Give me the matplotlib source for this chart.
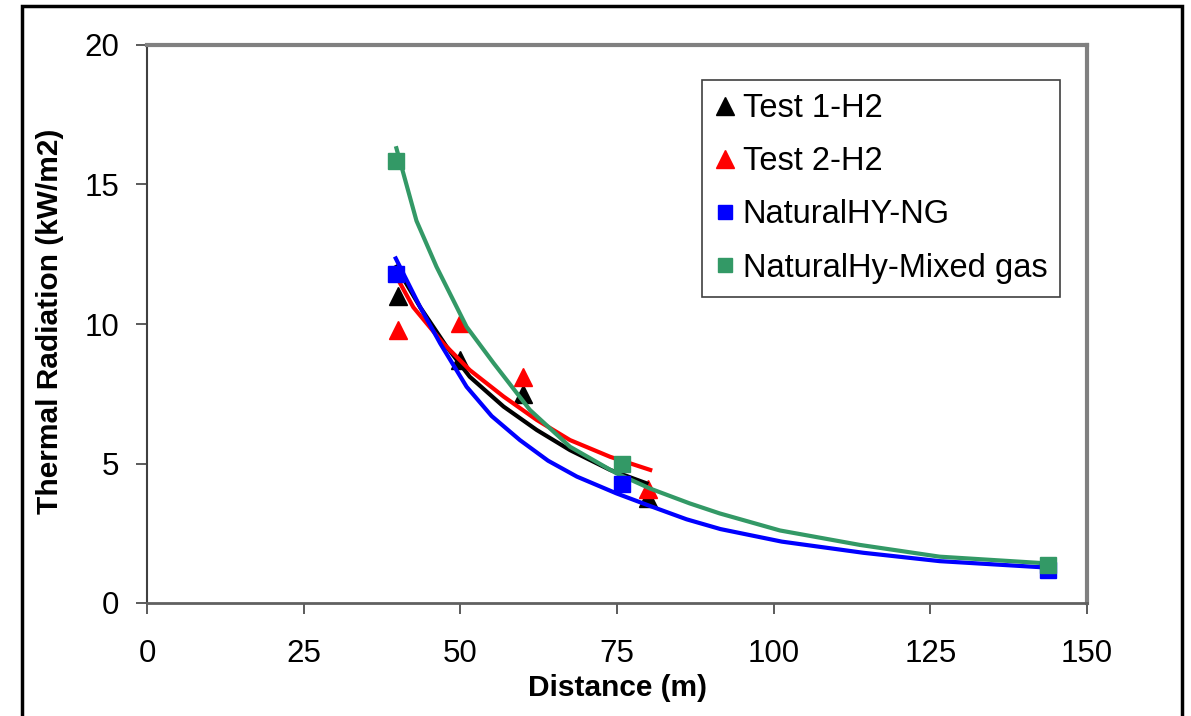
import matplotlib
matplotlib.use("Agg")
import matplotlib.pyplot as plt
from matplotlib.patches import Rectangle
from matplotlib.lines import Line2D

plt.rcParams['font.family'] = ['Liberation Sans', 'DejaVu Sans']

# --- Measured points (markers) ---
t1_x = [40, 50, 60, 80]
t1_y = [11.0, 8.7, 7.5, 3.75]
t2_x = [40, 50, 60, 80]
t2_y = [9.8, 10.05, 8.1, 4.1]
ng_x = [39.7, 75.8, 143.7]
ng_y = [11.8, 4.25, 1.2]
mix_x = [39.7, 75.8, 143.7]
mix_y = [15.85, 5.0, 1.35]

# --- Model curves ---
t1_line_x = [39.8, 43.6, 47.8, 51.5, 56.9, 62.2, 67.5, 73.9, 79.7]
t1_line_y = [12.05, 10.6, 9.19, 8.11, 7.04, 6.2, 5.48, 4.77, 4.29]
t2_line_x = [39.8, 42.5, 47.3, 51.5, 56.9, 62.2, 67.5, 73.9, 80.3]
t2_line_y = [11.7, 10.6, 9.3, 8.35, 7.4, 6.56, 5.84, 5.24, 4.77]
ng_line_x = [39.7, 43.6, 46.8, 51.0, 55.0, 59.5, 64.0, 68.6, 74.9, 80.0, 86.1, 91.5, 101.3, 114.3, 126.5, 143.6]
ng_line_y = [12.35, 10.6, 9.3, 7.75, 6.7, 5.84, 5.1, 4.53, 3.93, 3.5, 3.0, 2.65, 2.2, 1.8, 1.5, 1.27]
mix_line_x = [39.8, 43.0, 46.2, 51.0, 55.3, 61.1, 67.5, 74.9, 80.3, 86.6, 91.4, 101.0, 113.8, 126.5, 143.6]
mix_line_y = [16.3, 13.7, 12.05, 9.9, 8.6, 6.92, 5.6, 4.65, 4.1, 3.57, 3.21, 2.6, 2.08, 1.66, 1.42]

labels = ["Test 1-H2", "Test 2-H2", "NaturalHY-NG", "NaturalHy-Mixed gas"]
green = "#339966"

fig = plt.figure(figsize=(11.91, 7.16), dpi=100)
ax = fig.add_axes([147/1191, 1-603/716, (1087-147)/1191, (603-45)/716])

lw = 3.0
ax.plot(t1_line_x, t1_line_y, color="black", lw=lw, zorder=3)
ax.plot(t2_line_x, t2_line_y, color="red", lw=lw, zorder=3)
ax.plot(ng_line_x, ng_line_y, color="blue", lw=lw, zorder=3)
ax.plot(mix_line_x, mix_line_y, color=green, lw=lw, zorder=3)

ax.plot(t1_x, t1_y, ls="none", marker="^", ms=13, color="black", zorder=2)
ax.plot(t2_x, t2_y, ls="none", marker="^", ms=13, color="red", zorder=2)
ax.plot(ng_x, ng_y, ls="none", marker="s", ms=11, color="blue", zorder=4)
ax.plot(mix_x, mix_y, ls="none", marker="s", ms=11, color=green, zorder=4)

ax.set_xlim(0, 150)
ax.set_ylim(0, 20)
ax.set_xticks([0, 25, 50, 75, 100, 125, 150])
ax.set_yticks([0, 5, 10, 15, 20])
ax.tick_params(axis='both', direction='out', length=8, width=1.2, color="#404040",
               labelsize=22.5)
ax.tick_params(axis='y', pad=12)
ax.tick_params(axis='x', pad=18)

for s in ['top', 'right']:
    ax.spines[s].set_color("#808080")
    ax.spines[s].set_linewidth(3)
ax.spines['left'].set_color("#404040")
ax.spines['left'].set_linewidth(1.5)
ax.spines['bottom'].set_color("#606060")
ax.spines['bottom'].set_linewidth(2)

ax.set_xlabel("Distance (m)", fontsize=21.5, fontweight="bold")
ax.set_ylabel("Thermal Radiation (kW/m2)", fontsize=21.5, fontweight="bold")
ax.xaxis.set_label_coords(0.5, (603-688)/558)
ax.xaxis.label.set_va("center")
ax.yaxis.set_label_coords((50-147)/940, 0.505)
ax.yaxis.label.set_va("center")

handles = [
    Line2D([], [], ls="none", marker="^", ms=13, color="black"),
    Line2D([], [], ls="none", marker="^", ms=13, color="red"),
    Line2D([], [], ls="none", marker="s", ms=10.5, color="blue"),
    Line2D([], [], ls="none", marker="s", ms=10.5, color=green),
]
leg = ax.legend(handles, labels, loc="upper left", bbox_to_anchor=((702-147)/940, 1-(80-45)/558),
                fontsize=23.5, frameon=True, fancybox=False, framealpha=1,
                edgecolor="#404040", handlelength=0.6, handletextpad=0.25,
                labelspacing=0.68, borderpad=0.4, borderaxespad=0)
leg.get_frame().set_linewidth(1.2)

fig.patches.append(Rectangle((22/1191, -0.01), (1182-22)/1191, (1-6/716)+0.01,
                             transform=fig.transFigure, fill=False, ec="black", lw=2.5))

fig.savefig("out.png", dpi=100)
